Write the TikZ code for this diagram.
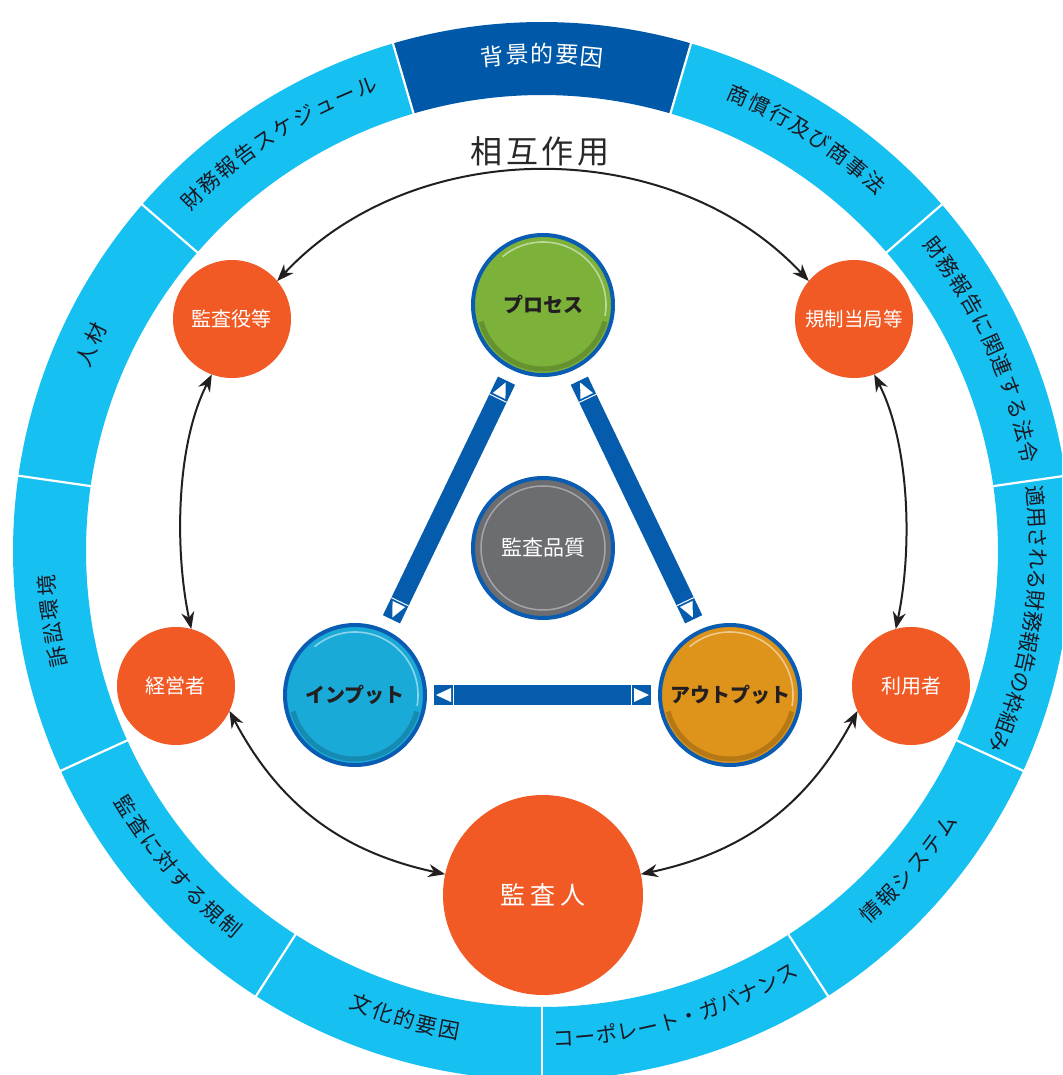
\documentclass[tikz,border=0pt]{standalone}
\usepackage{fontspec}
\newfontfamily\jp{Noto Sans CJK JP}
\usetikzlibrary{calc,arrows.meta}
\definecolor{ringcyan}{RGB}{22,192,241}
\definecolor{ringdark}{RGB}{0,88,168}
\definecolor{ringtext}{RGB}{25,25,35}
\definecolor{orng}{RGB}{241,90,36}
\definecolor{barblue}{RGB}{5,92,172}
\definecolor{bordblue}{RGB}{10,92,178}
\definecolor{ballgreen}{RGB}{124,177,58}
\definecolor{ballcyan}{RGB}{26,170,216}
\definecolor{ballamber}{RGB}{222,147,26}
\definecolor{ballgray}{RGB}{108,109,113}
\definecolor{grayring}{RGB}{165,165,168}
\definecolor{balltext}{RGB}{35,31,32}
\definecolor{arrcol}{RGB}{35,31,32}
\definecolor{sogo}{RGB}{40,40,40}

% #1 id, #2 centre angle, #3 pitch (px), #4 dir (1 = tops outward, -1 = tops inward), #5 n, #6 chars, #7 style
\newcommand\ringlabel[7]{%
  \foreach \ch [count=\i from 0] in {#6} {%
    \pgfmathsetmacro\th{#2 + #4*((#5-1)/2 - \i)*#3/492*180/pi}%
    \pgfmathsetmacro\rot{\th - #4*90}%
    \node[#7, rotate=\rot] (#1-\i) at (\th:492) {\ch};
  }%
}
\newcommand\mybarend[2]{%
  \coordinate (bt) at ($(#1)!17pt!(#2)$);
  \coordinate (bs) at ($(#1)!19.5pt!(#2)$);
  \fill[white] ($(#1)!2pt!(#2)$) -- ($(bt)!7pt!90:(#2)$) -- ($(bt)!7pt!-90:(#2)$) -- cycle;
  \draw[white, line width=1pt] ($(bs)!9.5pt!90:(#2)$) -- ($(bs)!9.5pt!-90:(#2)$);
}

\begin{document}
\begin{tikzpicture}[x=1pt,y=1pt,
  ringtxt/.style={inner sep=0pt, outer sep=0pt, text height=0.88em, text depth=0.12em,
     font=\jp\fontsize{21}{21}\selectfont, text=ringtext},
  ringtop/.style={ringtxt, font=\jp\fontsize{23}{23}\selectfont, text=white},
  orngnode/.style={circle, fill=orng, minimum size=#1, inner sep=0pt, outer sep=0pt,
     text=white, font=\jp\fontsize{20}{20}\selectfont},
  gloss/.style={circle, fill=#1, draw=bordblue, line width=4pt, minimum size=140pt,
     inner sep=0pt, outer sep=0pt, font=\jp\bfseries\fontsize{20}{20}\selectfont, text=balltext},
  dblarrow/.style={{Stealth[length=17pt,width=13pt,inset=5.5pt]}-{Stealth[length=17pt,width=13pt,inset=5.5pt]},
     line width=2pt, draw=arrcol},
  tribar/.style={line width=19pt, draw=barblue}
]
\useasboundingbox (-542,-524) rectangle (520,551);
\clip (-542,-524) rectangle (520,551);
\fill[white] (-542,-524) rectangle (520,551);

% ---- outer ring of 11 segments
\foreach \k in {0,...,10} {
  \pgfmathsetmacro\aa{90 + (\k-0.5)*360/11}
  \pgfmathsetmacro\ab{90 + (\k+0.5)*360/11}
  \ifnum\k=0 \def\segcol{ringdark}\else\def\segcol{ringcyan}\fi
  \fill[\segcol] (\aa:529) arc[start angle=\aa, end angle=\ab, radius=529]
     -- (\ab:456) arc[start angle=\ab, end angle=\aa, radius=456] -- cycle;
}
\foreach \k in {0,...,10} {
  \pgfmathsetmacro\aa{90 + (\k-0.5)*360/11}
  \draw[white, line width=2.2pt] (\aa:450) -- (\aa:540);
}

% ---- ring labels
\ringlabel{l0}{90}{24.7}{1}{5}{背,景,的,要,因}{ringtop}
\ringlabel{l1}{122.73}{23}{1}{10}{財,務,報,告,ス,ケ,ジ,ュ,ー,ル}{ringtxt}
\ringlabel{l2}{155.45}{24}{1}{2}{人,材}{ringtxt}
\ringlabel{l3}{188.18}{24}{1}{4}{訴,訟,環,境}{ringtxt}
\ringlabel{l4}{220.91}{23}{-1}{8}{監,査,に,対,す,る,規,制}{ringtxt}
\ringlabel{l5}{253.64}{23}{-1}{5}{文,化,的,要,因}{ringtxt}
\ringlabel{l6}{286.36}{21.5}{-1}{12}{コ,ー,ポ,レ,ー,ト,・,ガ,バ,ナ,ン,ス}{ringtxt}
\ringlabel{l7}{319.09}{23}{-1}{6}{情,報,シ,ス,テ,ム}{ringtxt}
\ringlabel{l8}{351.82}{20.8}{1}{13}{適,用,さ,れ,る,財,務,報,告,の,枠,組,み}{ringtxt}
\ringlabel{l9}{24.55}{22.5}{1}{11}{財,務,報,告,に,関,連,す,る,法,令}{ringtxt}
\ringlabel{l10}{57.27}{23}{1}{8}{商,慣,行,及,び,商,事,法}{ringtxt}

% ---- stakeholders
\node[orngnode=118pt] (jk) at (-310,232) {監査役等};
\node[orngnode=118pt, font=\jp\fontsize{19.5}{19.5}\selectfont] (kt) at (312,232) {規制当局等};
\node[orngnode=118pt] (kk) at (-366,-135) {経営者};
\node[orngnode=118pt] (ry) at (369,-135) {利用者};
\node[orngnode=200pt, font=\jp\fontsize{25}{25}\selectfont] (sj) at (1,-344) {監\hspace{5pt}査\hspace{5pt}人};

\node[font=\jp\fontsize{32}{32}\selectfont, text=sogo, inner sep=0pt] (sogo) at (-2,400)
   {相\hspace{3.5pt}互\hspace{3.5pt}作\hspace{3.5pt}用};

% ---- interaction arrows
\draw[dblarrow] (jk.40) to[out=47, in=133, looseness=0.97] (kt.140);
\draw[dblarrow] (jk.250) to[out=243, in=102, looseness=0.8] (kk.75);
\draw[dblarrow] (kt.290) to[out=297, in=78, looseness=0.8] (ry.105);
\draw[dblarrow] (kk.-25) to[bend right=25] (sj.168);
\draw[dblarrow] (ry.205) to[bend left=25] (sj.12);

% ---- triangle
\coordinate (prc) at (1,246);
\coordinate (ipc) at (-187,-144);
\coordinate (opc) at (188,-144);
\coordinate (b1a) at ($(prc)!84pt!(ipc)$);
\coordinate (b1b) at ($(ipc)!84pt!(prc)$);
\coordinate (b2a) at ($(prc)!84pt!(opc)$);
\coordinate (b2b) at ($(opc)!84pt!(prc)$);
\coordinate (b3a) at ($(ipc)!79pt!(opc)$);
\coordinate (b3b) at ($(opc)!79pt!(ipc)$);
\draw[tribar] (b1a) -- (b1b);
\draw[tribar] (b2a) -- (b2b);
\draw[tribar] (b3a) -- (b3b);
\mybarend{b1a}{b1b}
\mybarend{b1b}{b1a}
\mybarend{b2a}{b2b}
\mybarend{b2b}{b2a}
\mybarend{b3a}{b3b}
\mybarend{b3b}{b3a}

\node[gloss=ballgreen] (pr) at (prc) {プロセス};
\node[gloss=ballcyan] (ip) at (ipc) {インプット};
\node[gloss=ballamber] (op) at (opc) {アウトプット};
\node[gloss=ballgray, text=white, font=\jp\fontsize{21}{21}\selectfont] (q) at (1,3) {監査品質};
\draw[grayring, line width=1.5pt] (q.center) circle[radius=62];

\foreach \b in {pr,ip,op} {
  \draw[white, opacity=.5, line width=1.6pt] ($(\b.center)+(-10:63)$) arc[start angle=-10, end angle=130, radius=63];
  \draw[black, opacity=.18, line width=5pt] ($(\b.center)+(195:64)$) arc[start angle=195, end angle=345, radius=64];
}
\end{tikzpicture}
\end{document}
